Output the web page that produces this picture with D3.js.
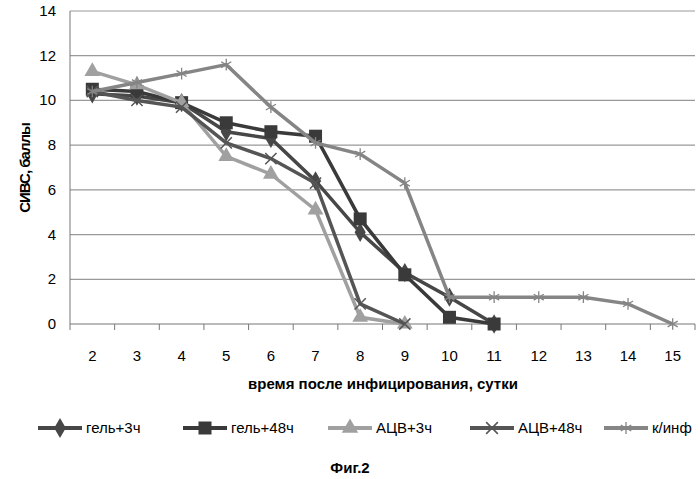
<!DOCTYPE html><html><head><meta charset="utf-8"><script src="https://cdn.jsdelivr.net/npm/d3@7"></script>
<style>body{margin:0;background:#fff}</style></head><body><svg id="c" width="700" height="479"></svg><script>
const days=[2,3,4,5,6,7,8,9,10,11,12,13,14,15];
const yTicks=[0,2,4,6,8,10,12,14];
const gel3=[10.3,10.2,9.9,8.6,8.3,6.4,4.1,2.3,1.2,0];
const gel48=[10.5,10.4,9.9,9.0,8.6,8.4,4.7,2.2,0.3,0];
const acv3=[11.3,10.7,9.9,7.5,6.7,5.1,0.3,0];
const acv48=[10.4,10.0,9.7,8.1,7.4,6.3,0.9,0];
const kinf=[10.4,10.8,11.2,11.6,9.7,8.1,7.6,6.3,1.2,1.2,1.2,1.2,0.9,0];
const series=[
 {name:"гель+3ч",v:gel3,c:"#474747",m:"diamond"},
 {name:"гель+48ч",v:gel48,c:"#3a3a3a",m:"square"},
 {name:"АЦВ+3ч",v:acv3,c:"#a0a0a0",m:"triangle"},
 {name:"АЦВ+48ч",v:acv48,c:"#555",m:"x"},
 {name:"к/инф",v:kinf,c:"#858585",m:"star"}];
const svg=d3.select("#c");
const L=70,R=695,T=11,B=324;
const x=d3.scaleBand().domain(days).range([L,R]);
const y=d3.scaleLinear().domain([0,14]).range([B,T]);
const f="Liberation Sans, Arial, sans-serif";
svg.append("g").selectAll("line").data(yTicks).join("line").attr("x1",L).attr("x2",R).attr("y1",d=>y(d)).attr("y2",d=>y(d)).attr("stroke",d=>d?"#999":"#777").attr("stroke-width",1.2);
svg.append("line").attr("x1",L).attr("x2",L).attr("y1",T).attr("y2",B).attr("stroke","#777");
svg.append("g").selectAll("line").data(days.concat([16])).join("line").attr("x1",(d,i)=>L+i*x.bandwidth()).attr("x2",(d,i)=>L+i*x.bandwidth()).attr("y1",B).attr("y2",B+6).attr("stroke","#777");
svg.append("g").selectAll("text").data(yTicks).join("text").attr("x",L-14).attr("y",d=>y(d)+5).attr("text-anchor","end").attr("font-family",f).attr("font-size",15).text(d=>d);
svg.append("g").selectAll("text").data(days).join("text").attr("x",d=>x(d)+x.bandwidth()/2).attr("y",B+37).attr("text-anchor","middle").attr("font-family",f).attr("font-size",15).text(d=>d);
svg.append("text").attr("x",383).attr("y",389).attr("text-anchor","middle").attr("font-family",f).attr("font-size",15).attr("font-weight","bold").text("время после инфицирования,  сутки");
svg.append("text").attr("transform","translate(30,168) rotate(-90)").attr("text-anchor","middle").attr("font-family",f).attr("font-size",15).attr("font-weight","bold").attr("letter-spacing","-1").text("СИВС, баллы");
svg.append("text").attr("x",350).attr("y",473).attr("text-anchor","middle").attr("font-family",f).attr("font-size",15).attr("font-weight","bold").text("Фиг.2");
function marker(g,m,c,s){
 if(m==="diamond")g.append("path").attr("d",d3.symbol(d3.symbolDiamond,s*9)()).attr("fill",c);
 else if(m==="square")g.append("rect").attr("x",-s/2).attr("y",-s/2).attr("width",s).attr("height",s).attr("fill",c);
 else if(m==="triangle")g.append("path").attr("d",d3.symbol(d3.symbolTriangle,s*9)()).attr("fill",c);
 else if(m==="x")g.append("path").attr("d",d3.symbol(d3.symbolX,s*7)()).attr("stroke",c).attr("stroke-width",1.5).attr("fill","none");
 else g.append("path").attr("d",d3.symbol(d3.symbolAsterisk,s*8)()).attr("stroke",c).attr("stroke-width",1.3).attr("fill","none");
}
const line=d3.line().x((d,i)=>x(days[i])+x.bandwidth()/2).y(d=>y(d));
series.forEach(s=>{
 svg.append("path").attr("d",line(s.v)).attr("fill","none").attr("stroke",s.c).attr("stroke-width",3.5);
 s.v.forEach((v,i)=>{const g=svg.append("g").attr("transform",`translate(${x(days[i])+x.bandwidth()/2},${y(v)})`);marker(g,s.m,s.c,s.m==="square"?13:12);});
});
const lx=[38,183,328,470,604];
series.forEach((s,i)=>{
 const g=svg.append("g").attr("transform",`translate(${lx[i]},428)`);
 g.append("line").attr("x1",0).attr("x2",44).attr("stroke",s.c).attr("stroke-width",4);
 const mg=g.append("g").attr("transform","translate(22,0)");marker(mg,s.m,s.c,13);
 g.append("text").attr("x",48).attr("y",5).attr("font-family",f).attr("font-size",15).text(s.name);
});
</script></body></html>
